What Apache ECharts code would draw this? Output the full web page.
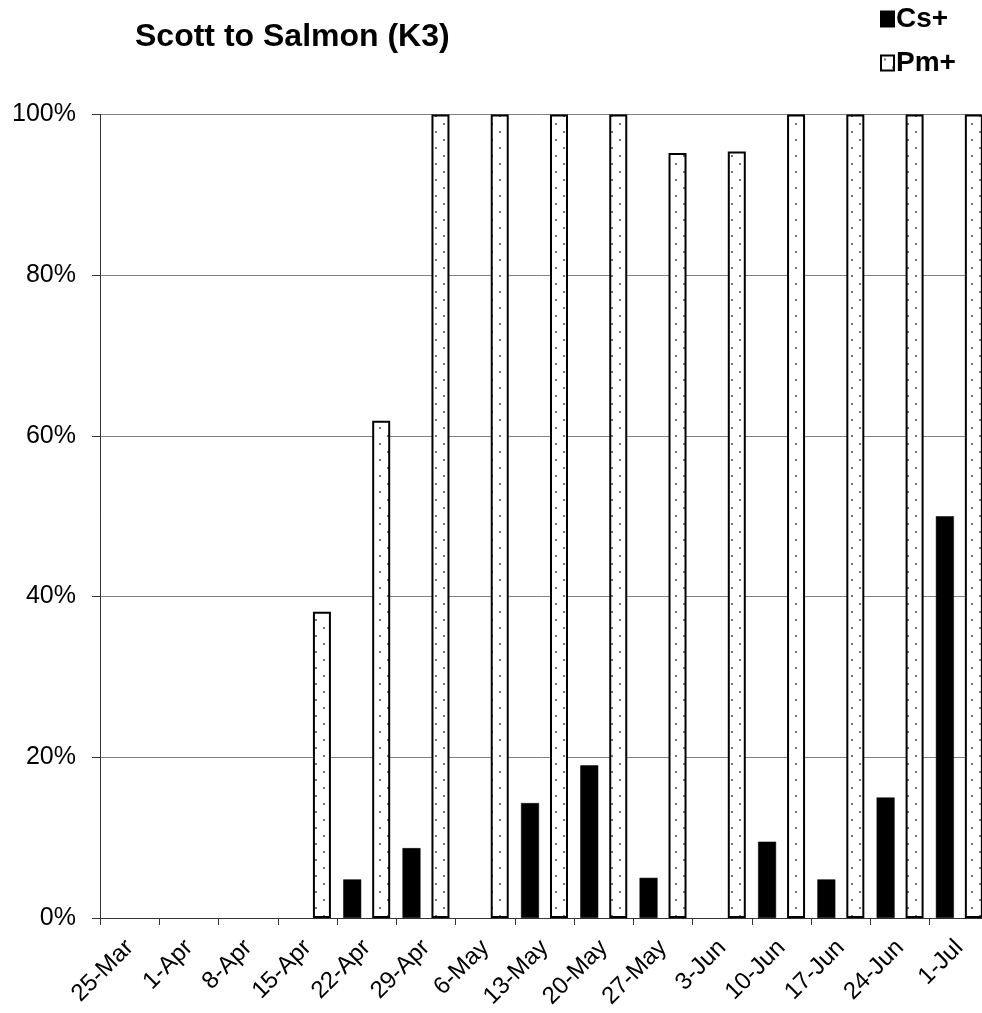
<!DOCTYPE html>
<html>
<head>
<meta charset="utf-8">
<script src="https://cdn.jsdelivr.net/npm/echarts@6/dist/echarts.min.js"></script>
<style>
html,body{margin:0;padding:0;background:#fff;}
#chart{width:982px;height:1013px;}
</style>
</head>
<body>
<div id="chart"></div>
<script>
const categories = ['25-Mar','1-Apr','8-Apr','15-Apr','22-Apr','29-Apr','6-May','13-May','20-May','27-May','3-Jun','10-Jun','17-Jun','24-Jun','1-Jul'];
const csPlus = [null, null, null, null, 4.8, 8.7, null, 14.3, 19.0, 5.0, null, 9.5, 4.8, 15.0, 50.0];
const pmPlus = [null, null, null, 38.1, 61.9, 100, 100, 100, 100, 95.2, 95.4, 100, 100, 100, 100];
const yTicks = [0, 20, 40, 60, 80, 100];

const FONT = '"Liberation Sans", Arial, sans-serif';

function dotPattern() {
  const c = document.createElement('canvas');
  c.width = 16; c.height = 16;
  const ctx = c.getContext('2d');
  ctx.fillStyle = '#fff';
  ctx.fillRect(0, 0, 16, 16);
  ctx.fillStyle = '#777';
  ctx.fillRect(3, 3, 2, 2);
  ctx.fillRect(11, 11, 2, 2);
  return c;
}

const chart = echarts.init(document.getElementById('chart'), null, {renderer: 'canvas'});
chart.setOption({
  backgroundColor: '#fff',
  animation: false,
  title: {
    text: 'Scott to Salmon (K3)',
    left: 135, top: 21, padding: 0,
    textStyle: {fontFamily: FONT, fontSize: 32, fontWeight: 'bold', color: '#000'}
  },
  legend: {
    orient: 'vertical',
    left: 880, top: 5, padding: 0,
    icon: 'rect',
    itemWidth: 13, itemHeight: 15, itemGap: 16,
    textStyle: {fontFamily: FONT, fontSize: 28, fontWeight: 'bold', color: '#000', padding: [0,0,0,-3]},
    data: ['Cs+', 'Pm+']
  },
  grid: {left: 100, top: 114.5, width: 889, height: 803.5, containLabel: false, outerBoundsMode: 'none'},
  xAxis: {
    type: 'category',
    data: categories,
    boundaryGap: true,
    axisLine: {lineStyle: {color: '#333', width: 1}},
    axisTick: {show: true, length: 7, alignWithLabel: false, lineStyle: {color: '#333'}},
    axisLabel: {interval: 0, rotate: 45, margin: 26, fontFamily: FONT, fontSize: 24, color: '#000'},
    splitLine: {show: false}
  },
  yAxis: {
    type: 'value',
    min: 0, max: 100, interval: 20,
    axisLine: {show: true, lineStyle: {color: '#333', width: 1}},
    axisTick: {show: true, length: 8, lineStyle: {color: '#333'}},
    axisLabel: {margin: 24, fontFamily: FONT, fontSize: 25, color: '#000',
      formatter: v => yTicks.includes(v) ? v + '%' : ''},
    splitLine: {show: true, lineStyle: {color: '#808080', width: 1}}
  },
  series: [
    {
      name: 'Cs+', type: 'bar', data: csPlus,
      barWidth: 18, barGap: '61%',
      itemStyle: {color: '#000', borderColor: '#000', borderWidth: 0.5}
    },
    {
      name: 'Pm+', type: 'bar', data: pmPlus,
      barWidth: 18, barGap: '61%',
      itemStyle: {color: {image: dotPattern(), repeat: 'repeat'}, borderColor: '#000', borderWidth: 2}
    }
  ]
});
</script>
</body>
</html>
